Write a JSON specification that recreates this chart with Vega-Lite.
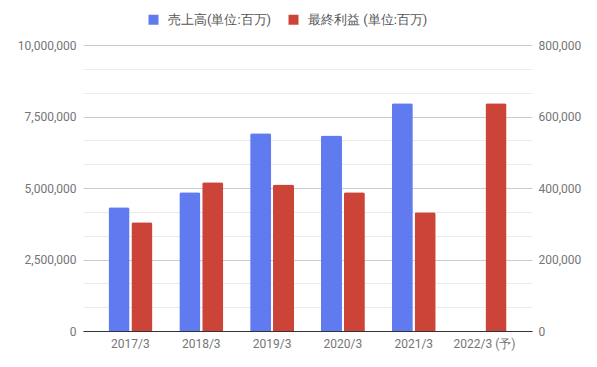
{
  "$schema": "https://vega.github.io/schema/vega-lite/v6.json",
  "width": 449,
  "height": 286,
  "autosize": {"type": "none"},
  "padding": {"left": 83, "top": 45, "right": 65, "bottom": 36},
  "background": "white",
  "data": {
    "values": [
      {"year": "2017/3", "series": "売上高(単位:百万)", "value": 4330000},
      {"year": "2017/3", "series": "最終利益 (単位:百万)", "value": 304000},
      {"year": "2018/3", "series": "売上高(単位:百万)", "value": 4850000},
      {"year": "2018/3", "series": "最終利益 (単位:百万)", "value": 416000},
      {"year": "2019/3", "series": "売上高(単位:百万)", "value": 6910000},
      {"year": "2019/3", "series": "最終利益 (単位:百万)", "value": 410000},
      {"year": "2020/3", "series": "売上高(単位:百万)", "value": 6840000},
      {"year": "2020/3", "series": "最終利益 (単位:百万)", "value": 388000},
      {"year": "2021/3", "series": "売上高(単位:百万)", "value": 7960000},
      {"year": "2021/3", "series": "最終利益 (単位:百万)", "value": 332000},
      {"year": "2022/3 (予)", "series": "売上高(単位:百万)", "value": null},
      {"year": "2022/3 (予)", "series": "最終利益 (単位:百万)", "value": 637000}
    ]
  },
  "encoding": {
    "x": {
      "field": "year", "type": "nominal", "sort": null,
      "scale": {"paddingInner": 0.38, "paddingOuter": 0.36},
      "axis": {"title": null, "labelAngle": 0, "domainColor": "#333333", "domainWidth": 1, "ticks": false, "labelPadding": 7, "labelFont": "Roboto", "labelFontSize": 12, "labelColor": "#757575", "zindex": 1}
    },
    "xOffset": {
      "field": "series", "type": "nominal",
      "scale": {"domain": ["売上高(単位:百万)", "最終利益 (単位:百万)"], "paddingInner": 0.08}
    },
    "color": {
      "field": "series", "type": "nominal",
      "scale": {"domain": ["売上高(単位:百万)", "最終利益 (単位:百万)"], "range": ["#5f7bef", "#cc4437"]},
      "legend": {
        "title": null, "orient": "none", "legendX": 64, "legendY": -32, "direction": "horizontal",
        "symbolType": "square", "symbolSize": 100, "symbolStrokeWidth": 0, "labelFont": "Roboto",
        "labelFontSize": 13, "labelColor": "#555555", "columnPadding": 15, "labelOffset": 8
      }
    }
  },
  "layer": [
    {
      "transform": [{"filter": "datum.series === '売上高(単位:百万)'"}],
      "mark": {"type": "bar", "cornerRadiusTopLeft": 2, "cornerRadiusTopRight": 2},
      "encoding": {
        "y": {
          "field": "value", "type": "quantitative",
          "scale": {"domain": [0, 10000000], "nice": false},
          "axis": {
            "title": null, "orient": "left", "domain": false, "ticks": false, "labelPadding": 7,
            "values": [0, 833333.33, 1666666.67, 2500000, 3333333.33, 4166666.67, 5000000, 5833333.33, 6666666.67, 7500000, 8333333.33, 9166666.67, 10000000],
            "labelExpr": "datum.value % 2500000 === 0 ? format(datum.value, ',') : ''",
            "gridColor": {"condition": {"test": "datum.value % 2500000 === 0", "value": "#cccccc"}, "value": "#ebebeb"},
            "labelFont": "Roboto", "labelFontSize": 12, "labelColor": "#757575"
          }
        }
      }
    },
    {
      "transform": [{"filter": "datum.series === '最終利益 (単位:百万)'"}],
      "mark": {"type": "bar", "cornerRadiusTopLeft": 2, "cornerRadiusTopRight": 2},
      "encoding": {
        "y": {
          "field": "value", "type": "quantitative",
          "scale": {"domain": [0, 800000], "nice": false},
          "axis": {
            "title": null, "orient": "right", "domain": false, "ticks": false, "grid": false, "labelPadding": 6,
            "values": [0, 200000, 400000, 600000, 800000], "format": ",.0f",
            "labelFont": "Roboto", "labelFontSize": 12, "labelColor": "#757575"
          }
        }
      }
    }
  ],
  "resolve": {"scale": {"y": "independent"}},
  "config": {"view": {"stroke": null}}
}
